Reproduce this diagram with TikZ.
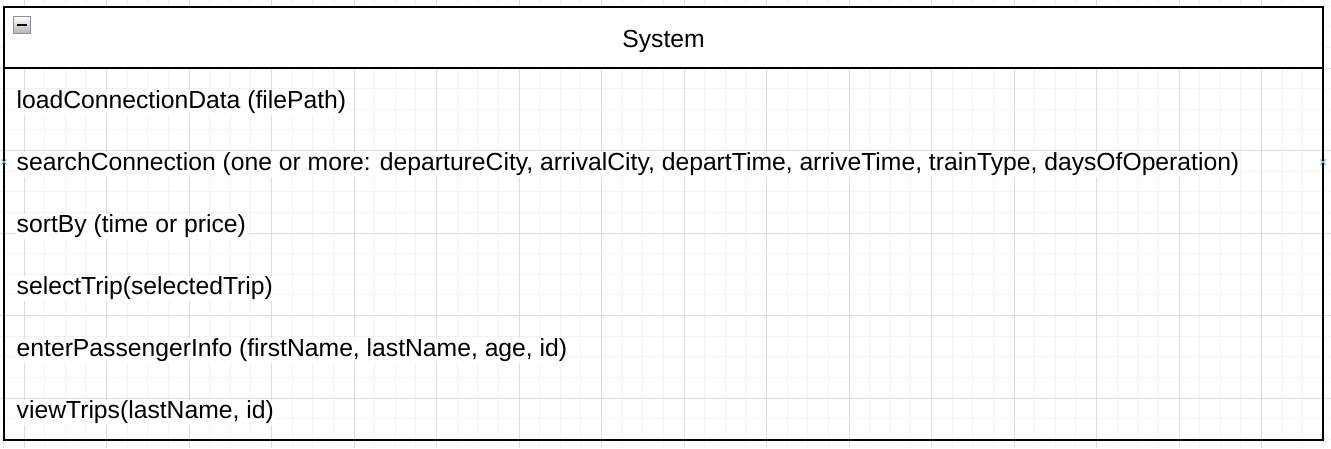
\documentclass[tikz,border=0pt]{standalone}
\usepackage{fontspec}
\setmainfont{Liberation Sans}
\begin{document}
\begin{tikzpicture}[x=1pt,y=-1pt,
  gridminor/.style={draw=black!5,line width=0.9pt},
  gridmajor/.style={draw=black!14,line width=0.9pt},
  classbox/.style={draw=black,line width=2pt},
  member/.style={anchor=west,inner sep=1pt,fill=white,font=\fontsize{24.7}{28}\selectfont},
  title/.style={inner sep=0pt,font=\fontsize{24.7}{28}\selectfont},
  portmark/.style={draw=cyan!70!blue!70,line width=0.9pt}]
\useasboundingbox (0,0) rectangle (1331,448);
\fill[white] (0,0) rectangle (1331,448);
% background grid
\foreach \i in {-1,...,63} {
  \draw[gridminor] (24+\i*20.625,0) -- (24+\i*20.625,448);
}
\foreach \j in {-4,...,18} {
  \draw[gridminor] (0,68+\j*20.625) -- (1331,68+\j*20.625);
}
\foreach \i in {0,...,15} {
  \draw[gridmajor] (24+\i*82.5,0) -- (24+\i*82.5,448);
}
\foreach \j in {-1,...,4} {
  \draw[gridmajor] (0,68+\j*82.5) -- (1331,68+\j*82.5);
}
% class header
\fill[white] (4,6.5) rectangle (1323,68);
\node[title] (title) at (663.5,41) {System};
% collapse button
\shade[top color=white,bottom color=black!30,draw=blue!20!black!45,line width=1pt]
  (13.5,16.5) rectangle (30.5,33.5);
\draw[line width=2.5pt] (17,25) -- (27,25);
% operations
\node[member] (op1) at (15.5,102.5) {loadConnectionData (filePath)};
\node[member] (op2) at (15.5,164.5) {searchConnection (one or more: departureCity, arrivalCity, departTime, arriveTime, trainType, daysOfOperation)};
\node[member] (op3) at (15.5,226.5) {sortBy (time or price)};
\node[member] (op4) at (15.5,288.5) {selectTrip(selectedTrip)};
\node[member] (op5) at (15.5,350.5) {enterPassengerInfo (firstName, lastName, age, id)};
\node[member] (op6) at (15.5,412.5) {viewTrips(lastName, id)};
% class outline
\draw[classbox] (4,6.5) rectangle (1323,440);
\draw[classbox] (4,68) -- (1323,68);
% connection points
\coordinate (pl) at (4,162);
\coordinate (pr) at (1323,162);
\foreach \p in {pl,pr} {
  \draw[portmark] ([shift={(-2.5,-2.5)}]\p) -- ([shift={(2.5,2.5)}]\p);
  \draw[portmark] ([shift={(-2.5,2.5)}]\p) -- ([shift={(2.5,-2.5)}]\p);
}
\end{tikzpicture}
\end{document}
